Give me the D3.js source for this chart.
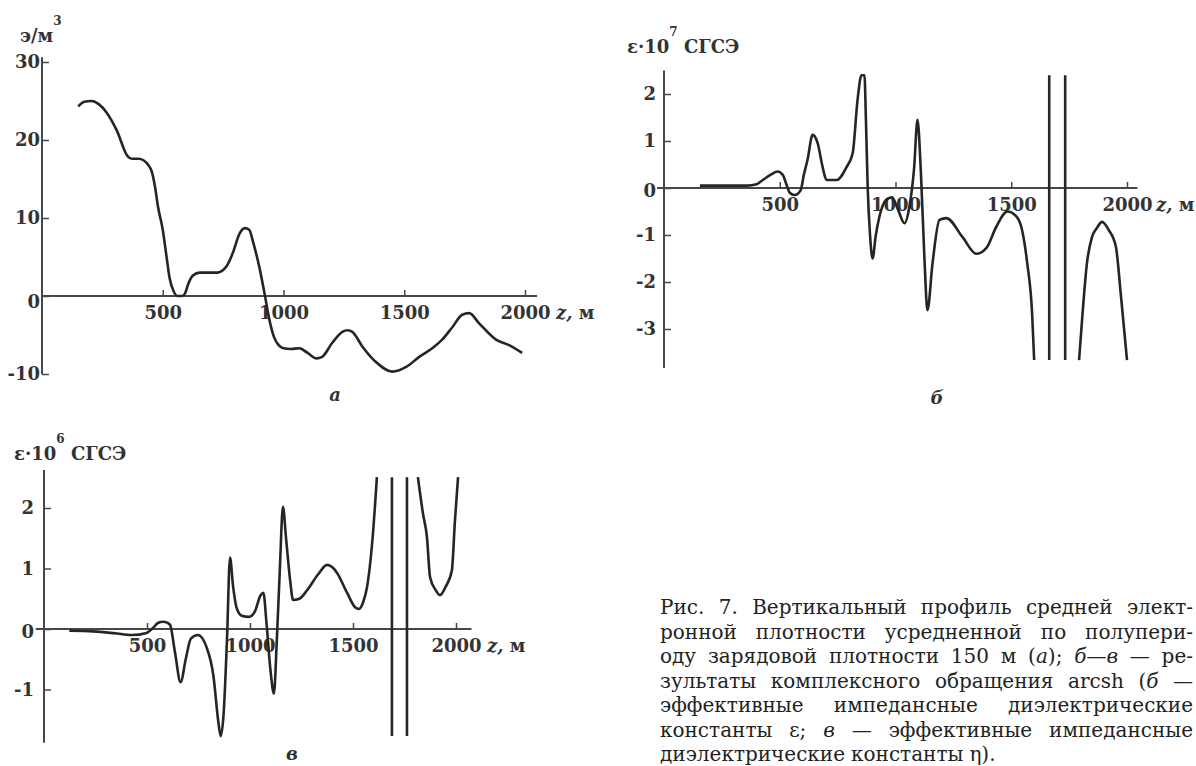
<!DOCTYPE html>
<html>
<head>
<meta charset="utf-8">
<script src="https://cdn.jsdelivr.net/npm/d3@7"></script>
<style>
  body { margin: 0; background: #fff; }
  svg { display: block; }
  .tick text { font-family: "DejaVu Serif", serif; font-weight: bold; font-size: 18px; fill: #333; }
  .lbl { font-family: "DejaVu Serif", serif; font-weight: bold; font-size: 18px; fill: #333; }
  .cap { font-family: "DejaVu Serif", serif; font-size: 20px; fill: #222; }
</style>
</head>
<body>
<div id="chart"></div>
<script>
// --- data ---
const xTicks = [500, 1000, 1500, 2000];

// panel а: charge density, э/м^3
const zA = [150, 175, 205, 235, 268, 310, 355, 372, 400, 420, 440, 454, 468, 480, 500, 515, 529, 545, 560, 580, 592, 605, 624, 653, 690, 727, 764, 790, 818, 840, 858, 875, 900, 921, 942, 960, 980, 1000, 1030, 1066, 1100, 1136, 1160, 1202, 1244, 1265, 1285, 1327, 1384, 1450, 1508, 1562, 1616, 1657, 1699, 1740, 1769, 1810, 1880, 1934, 1988];
const rhoA = [24.3, 24.9, 25.0, 24.6, 23.5, 21.2, 17.9, 17.6, 17.6, 17.4, 16.8, 16.0, 14.0, 11.5, 8.5, 5.2, 2.2, 0.6, 0.0, 0.0, 0.3, 1.5, 2.6, 3.0, 3.0, 3.0, 3.8, 5.5, 8.0, 8.7, 8.5, 6.8, 3.7, 0.4, -3.1, -5.2, -6.3, -6.7, -6.8, -6.7, -7.3, -8.0, -7.8, -6.0, -4.6, -4.4, -4.6, -6.5, -8.5, -9.7, -9.1, -7.8, -6.7, -5.6, -4.0, -2.4, -2.2, -3.5, -5.6, -6.3, -7.3];
const yTicksA = [-10, 0, 10, 20, 30];

// panel б: epsilon * 1e7 СГСЭ
const zB1 = [155, 300, 358, 400, 427, 460, 491, 513, 534, 543, 565, 590, 605, 620, 642, 664, 685, 702, 746, 789, 815, 836, 853, 866, 872, 880, 890, 901, 915, 931, 960, 985, 1010, 1039, 1060, 1080, 1095, 1110, 1125, 1138, 1160, 1190, 1220, 1289, 1349, 1392, 1435, 1483, 1521, 1547, 1569, 1590, 1599];
const epsB1 = [0.05, 0.05, 0.05, 0.08, 0.17, 0.28, 0.35, 0.28, 0.0, -0.1, -0.15, -0.05, 0.3, 0.6, 1.13, 0.95, 0.45, 0.17, 0.17, 0.45, 0.74, 1.87, 2.4, 2.4, 1.5, 0.0, -1.0, -1.5, -1.0, -0.6, -0.25, -0.2, -0.45, -0.75, -0.4, 0.4, 1.45, 0.3, -1.5, -2.6, -1.6, -0.68, -0.64, -1.04, -1.4, -1.28, -0.83, -0.5, -0.6, -0.9, -1.6, -2.66, -3.66];
const zB2 = [1793, 1806, 1827, 1849, 1870, 1892, 1922, 1952, 1974, 2000];
const epsB2 = [-3.66, -2.8, -1.6, -1.04, -0.85, -0.72, -0.9, -1.25, -2.3, -3.66];
const asymB = [1664, 1733];
const clipB = [-3.66, 2.4];
const yTicksB = [-3, -2, -1, 0, 1, 2];

// panel в: eta * 1e6 СГСЭ
const zV1 = [123, 240, 343, 427, 494, 530, 553, 578, 600, 612, 636, 663, 688, 713, 747, 789, 823, 845, 858, 872, 888, 903, 918, 935, 960, 995, 1025, 1050, 1065, 1080, 1100, 1116, 1130, 1145, 1160, 1175, 1195, 1209, 1240, 1277, 1330, 1374, 1400, 1422, 1471, 1510, 1529, 1550, 1568, 1595, 1616];
const etaV1 = [-0.03, -0.04, -0.07, -0.1, -0.07, 0.02, 0.1, 0.12, 0.1, 0.07, -0.39, -0.88, -0.5, -0.16, -0.1, -0.3, -0.79, -1.5, -1.77, -1.4, -0.2, 1.18, 0.7, 0.35, 0.22, 0.2, 0.3, 0.55, 0.6, 0.1, -0.7, -1.07, -0.2, 1.0, 2.02, 1.5, 0.8, 0.48, 0.5, 0.64, 0.9, 1.06, 1.02, 0.93, 0.6, 0.36, 0.33, 0.45, 0.69, 1.5, 2.51];
const zV2 = [1815, 1840, 1859, 1874, 1900, 1922, 1950, 1980, 1995, 2010];
const etaV2 = [2.51, 1.9, 1.52, 0.86, 0.65, 0.56, 0.7, 0.97, 1.8, 2.51];
const asymV = [1689, 1762];
const clipV = [-1.77, 2.51];
const yTicksV = [-1, 0, 1, 2];

const captionLines = [
  "Рис. 7. Вертикальный профиль средней элект-",
  "ронной плотности усредненной по полупери-",
  "оду зарядовой плотности 150 м (_а_); _б_—_в_ — ре-",
  "зультаты комплексного обращения arcsh (_б_ —",
  "эффективные импедансные диэлектрические",
  "константы ε; _в_ — эффективные импедансные",
  "диэлектрические константы η)."
];

// --- drawing ---
const width = 1196, height = 766;
const svg = d3.select("#chart").append("svg")
  .attr("width", width)
  .attr("height", height);

const axisColor = "#474747";
const lineColor = "#252525";

function drawPanel(p) {
  const x = d3.scaleLinear().domain([0, 2000]).range(p.xRange);
  const y = d3.scaleLinear().domain(p.yDomain).range(p.yRange);
  const g = svg.append("g");

  // axis lines
  g.append("line")
    .attr("x1", x(p.xAxisExt[0])).attr("x2", x(p.xAxisExt[1]))
    .attr("y1", y(0)).attr("y2", y(0))
    .attr("stroke", axisColor).attr("stroke-width", 2);
  g.append("line")
    .attr("x1", x(0)).attr("x2", x(0))
    .attr("y1", y(p.yAxisExt[1])).attr("y2", y(p.yAxisExt[0]))
    .attr("stroke", axisColor).attr("stroke-width", 2);

  const xa = g.append("g")
    .attr("transform", `translate(0,${y(0)})`)
    .attr("color", axisColor)
    .call(d3.axisBottom(x).tickValues(xTicks).tickSize(-6).tickPadding(10).tickFormat(d => String(d)));
  xa.select(".domain").remove();
  xa.selectAll(".tick line").attr("stroke-width", 1.5);

  const ya = g.append("g")
    .attr("transform", `translate(${x(0)},0)`)
    .attr("color", axisColor)
    .call(d3.axisLeft(y).tickValues(p.yTicks).tickSize(-7).tickPadding(p.pad).tickFormat(d => String(d)));
  ya.select(".domain").remove();
  ya.selectAll(".tick line").attr("stroke-width", 1.5);
  ya.selectAll(".tick").filter(d => d === 0).select("text").attr("dy", "0.32em").attr("y", p.zeroShift);

  // curves
  const line = d3.line().x(d => x(d[0])).y(d => y(d[1])).curve(d3.curveMonotoneX);
  p.segments.forEach(seg => {
    g.append("path")
      .datum(d3.zip(seg[0], seg[1]))
      .attr("fill", "none")
      .attr("stroke", lineColor)
      .attr("stroke-width", 2.6)
      .attr("stroke-linejoin", "round")
      .attr("d", line);
  });
  const straight = d3.line().x(d => x(d[0])).y(d => y(d[1]));
  (p.asym || []).forEach(z => {
    g.append("path")
      .datum([[z, p.clip[0]], [z, p.clip[1]]])
      .attr("fill", "none")
      .attr("stroke", lineColor)
      .attr("stroke-width", 2.6)
      .attr("d", straight);
  });

  // z, м label
  const zl = g.append("text").attr("class", "lbl")
    .attr("x", x(2000) + p.zLabelDx).attr("y", y(0) + 23);
  zl.append("tspan").attr("font-style", "italic").text("z,");
  zl.append("tspan").text(" м");

  // y title
  const t = g.append("text").attr("class", "lbl")
    .attr("x", p.title.x).attr("y", p.title.y);
  t.append("tspan").text(p.title.main);
  t.append("tspan").attr("font-size", 12).attr("dy", -17).text(p.title.sup);
  t.append("tspan").attr("dy", 17).text(p.title.rest);

  // panel letter
  g.append("text").attr("class", "lbl")
    .attr("font-style", "italic").attr("font-size", 16)
    .attr("text-anchor", "middle")
    .attr("x", p.letter[0]).attr("y", p.letter[1])
    .text(p.letter[2]);
}

drawPanel({
  xRange: [42, 525], yDomain: [-10, 30], yRange: [374, 62],
  xAxisExt: [0, 2050], yAxisExt: [-10, 30.6],
  yTicks: yTicksA, pad: 2, zeroShift: 6, zLabelDx: 31,
  segments: [[zA, rhoA]],
  title: { x: 20, y: 42, main: "э/м", sup: "3", rest: "" },
  letter: [335, 401, "а"]
});

drawPanel({
  xRange: [664, 1127], yDomain: [-3, 2], yRange: [329, 94],
  xAxisExt: [-30, 2045], yAxisExt: [-3.83, 2.5],
  yTicks: yTicksB, pad: 8, zeroShift: 3, zLabelDx: 29,
  segments: [[zB1, epsB1], [zB2, epsB2]],
  asym: asymB, clip: clipB,
  title: { x: 627, y: 53, main: "ε·10", sup: "7", rest: " СГСЭ" },
  letter: [937, 404, "б"]
});

drawPanel({
  xRange: [44, 456], yDomain: [-1, 2], yRange: [689.5, 508],
  xAxisExt: [-40, 2075], yAxisExt: [-1.88, 2.63],
  yTicks: yTicksV, pad: 10, zeroShift: 3, zLabelDx: 31,
  segments: [[zV1, etaV1], [zV2, etaV2]],
  asym: asymV, clip: clipV,
  title: { x: 14, y: 460, main: "ε·10", sup: "6", rest: " СГСЭ" },
  letter: [292, 760, "в"]
});

// caption, justified by spreading the words
const capLeft = 660, capRight = 1193, capTop = 614, capStep = 24.5;
captionLines.forEach((ln, i) => {
  const words = ln.split(" ");
  const nodes = words.map(w => {
    const t = svg.append("text").attr("class", "cap").attr("y", capTop + i * capStep);
    w.split("_").forEach((part, k) => {
      if (part) t.append("tspan").attr("font-style", k % 2 ? "italic" : null).text(part);
    });
    return t;
  });
  const widths = nodes.map(t => t.node().getComputedTextLength());
  const total = d3.sum(widths);
  const last = i === captionLines.length - 1;
  const gap = last ? 6 : (capRight - capLeft - total) / (words.length - 1);
  let cx = capLeft;
  nodes.forEach((t, k) => {
    t.attr("x", cx);
    cx += widths[k] + gap;
  });
});
</script>
</body>
</html>
